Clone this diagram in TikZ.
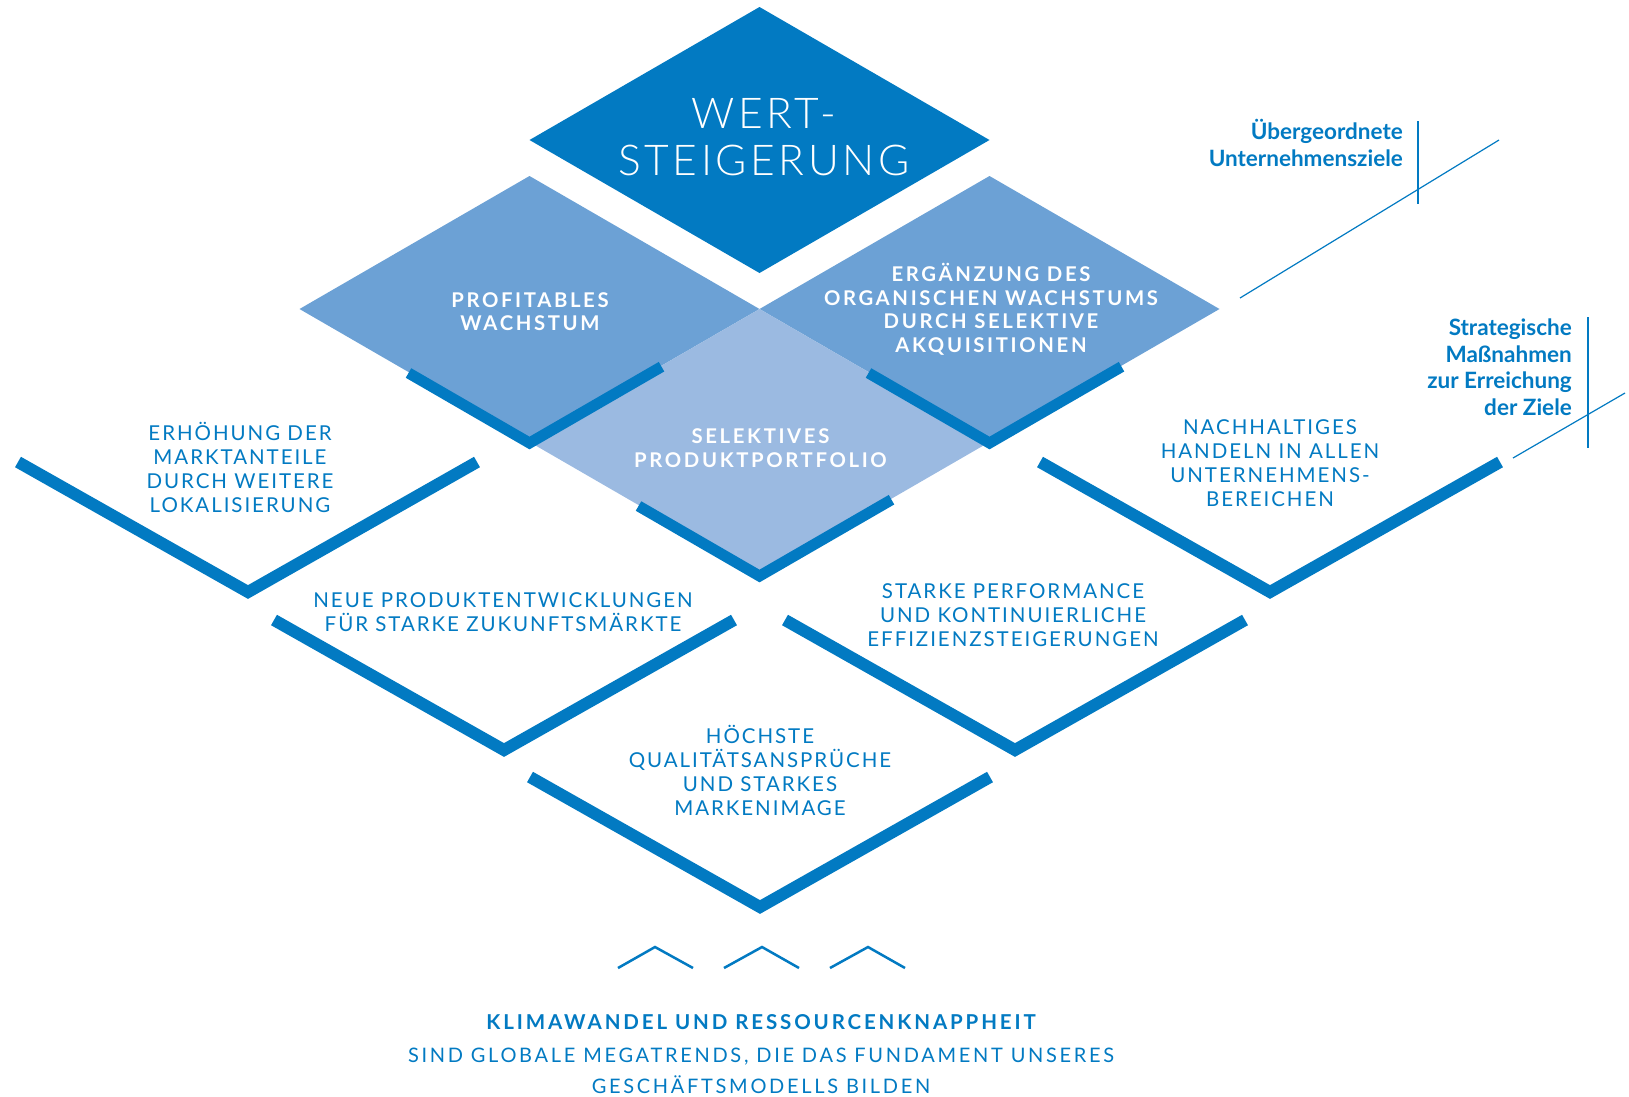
\documentclass[tikz,border=0pt]{standalone}
\usepackage{fontspec}
\setmainfont{Lato}
\newfontfamily\lblfont{Lato}[LetterSpace=9.5]
\newfontfamily\wlblfont{Lato}[LetterSpace=13]
\newfontfamily\botfont{Lato}[LetterSpace=13.5]
\newfontfamily\klimafont{Lato}[LetterSpace=14]
\newfontfamily\wertfont{Lato Light}[LetterSpace=8.5]
\newfontfamily\plainfont{Lato}
\definecolor{dblue}{RGB}{2,122,194}
\definecolor{mblue}{RGB}{108,161,213}
\definecolor{lblue}{RGB}{155,186,225}
\tikzset{
  vbig/.style={draw=dblue, line width=12pt, line cap=butt, line join=miter},
  vsmall/.style={draw=dblue, line width=11pt, line cap=butt, line join=miter},
  chev/.style={draw=dblue, line width=2.5pt, line join=miter},
  thin/.style={draw=dblue, line width=1.2pt},
  lbl/.style={text=dblue, align=center, inner sep=0pt, anchor=base,
    font=\lblfont\fontsize{20.5}{24}\selectfont},
  wlbl/.style={text=white, align=center, inner sep=0pt, anchor=base,
    font=\wlblfont\bfseries\fontsize{20.3}{23.5}\selectfont},
  rlbl/.style={text=dblue, align=right, inner sep=0pt, anchor=base east,
    font=\plainfont\bfseries\fontsize{22.5}{26.5}\selectfont},
}
\begin{document}
\begin{tikzpicture}[x=1pt,y=-1pt]
\useasboundingbox (0,0) rectangle (1629,1096);
% diamonds
\fill[dblue] (759.5,7) -- (989.5,140) -- (759.5,273) -- (529.5,140) -- cycle;
\fill[mblue] (529.5,176) -- (759.5,309) -- (529.5,442) -- (299.5,309) -- cycle;
\fill[mblue] (989.5,176) -- (1219.5,309) -- (989.5,442) -- (759.5,309) -- cycle;
\fill[lblue] (759.5,309) -- (989.5,442) -- (759.5,575) -- (529.5,442) -- cycle;
% small V strokes
\draw[vsmall] (408.5,373) -- (529.5,443) -- (661.5,366.7);
\draw[vsmall] (868.5,373) -- (989.5,443) -- (1121.5,366.7);
\draw[vsmall] (638.5,506) -- (759.5,576) -- (891.5,499.7);
% big V strokes
\draw[vbig] (18,462) -- (248,592) -- (477,462);
\draw[vbig] (1040,462) -- (1270,592) -- (1500,462);
\draw[vbig] (274,620) -- (504,750) -- (734,620);
\draw[vbig] (785,620) -- (1015,750) -- (1245,620);
\draw[vbig] (530,777) -- (760,907) -- (990,777);
% bottom chevrons
\draw[chev] (618,968) -- (655,947) -- (693,968);
\draw[chev] (724,968) -- (762,947) -- (799,968);
\draw[chev] (830,968) -- (868,947) -- (905,968);
% right markers
\draw[thin] (1418,121) -- (1418,204);
\draw[thin] (1240,298) -- (1499,140);
\draw[thin] (1588,317) -- (1588,448);
\draw[thin] (1513,458) -- (1625,393);
% texts (anchor base = baseline of last line)
\node[text=white, align=center, inner sep=0pt, anchor=base,
  font=\wertfont\fontsize{42.5}{47}\selectfont] (wert) at (764,175) {WERT-\\STEIGERUNG};
\node[wlbl] (profit) at (530,330.5) {PROFITABLES\\WACHSTUM};
\node[wlbl] (erg) at (991,352) {ERGÄNZUNG DES\\ORGANISCHEN WACHSTUMS\\DURCH SELEKTIVE\\AKQUISITIONEN};
\node[wlbl] (sel) at (760.5,467) {SELEKTIVES\\PRODUKTPORTFOLIO};
\node[lbl] (erh) at (240,512) {ERHÖHUNG DER\\MARKTANTEILE\\DURCH WEITERE\\LOKALISIERUNG};
\node[lbl] (nach) at (1270,506) {NACHHALTIGES\\HANDELN IN ALLEN\\UNTERNEHMENS-\\BEREICHEN};
\node[lbl] (neue) at (503,631) {NEUE PRODUKTENTWICKLUNGEN\\FÜR STARKE ZUKUNFTSMÄRKTE};
\node[lbl] (starke) at (1013,646) {STARKE PERFORMANCE\\UND KONTINUIERLICHE\\EFFIZIENZSTEIGERUNGEN};
\node[lbl] (hoch) at (760,815) {HÖCHSTE\\QUALITÄTSANSPRÜCHE\\UND STARKES\\MARKENIMAGE};
\node[rlbl] (ueber) at (1403,166) {Übergeordnete\\Unternehmensziele};
\node[rlbl] (strat) at (1572,415) {Strategische\\Maßnahmen\\zur Erreichung\\der Ziele};
\node[text=dblue, inner sep=0pt, anchor=base,
  font=\klimafont\bfseries\fontsize{20.5}{24}\selectfont] (klima) at (761,1029) {KLIMAWANDEL UND RESSOURCENKNAPPHEIT};
\node[text=dblue, align=center, inner sep=0pt, anchor=base,
  font=\botfont\fontsize{20}{31}\selectfont] (sind) at (761,1093) {SIND GLOBALE MEGATRENDS, DIE DAS FUNDAMENT UNSERES\\GESCHÄFTSMODELLS BILDEN};
\end{tikzpicture}
\end{document}
